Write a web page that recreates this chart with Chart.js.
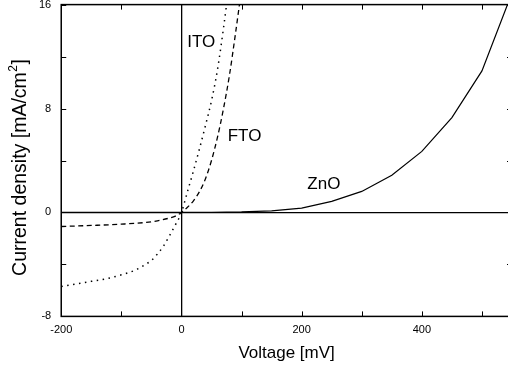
<!DOCTYPE html>
<html>
<head>
<meta charset="utf-8">
<script src="https://cdn.jsdelivr.net/npm/chart.js@4/dist/chart.umd.min.js"></script>
<style>
  html, body { margin: 0; padding: 0; background: #fff; overflow: hidden; }
  #wrap { width: 508px; height: 370px; overflow: hidden; }
  #ivChart { display: block; margin-top: -12px; }
</style>
</head>
<body>
<div id="wrap"><canvas id="ivChart" width="519" height="382"></canvas></div>
<script>
// --- Data ---
const voltageITO = [-200, -175, -150, -125, -100, -75, -60, -50, -40, -30, -20, -10, 0, 10, 20, 30, 40, 50, 60, 70, 80];
const currentITO = [-5.7, -5.5, -5.3, -5.1, -4.8, -4.4, -4.0, -3.7, -3.2, -2.6, -1.8, -0.95, 0, 1.6, 3.2, 4.9, 6.7, 8.6, 11.0, 14.2, 17.8];

const voltageFTO = [-200, -150, -100, -60, -40, -20, -10, 0, 10, 20, 30, 40, 50, 60, 70, 80, 90, 100];
const currentFTO = [-1.08, -1.0, -0.9, -0.77, -0.64, -0.43, -0.28, 0, 0.4, 0.9, 1.6, 2.6, 4.0, 5.8, 8.0, 10.6, 13.8, 17.2];

const voltageZnO = [-200, -150, -100, -50, 0, 50, 100, 150, 200, 250, 300, 350, 400, 450, 500, 550];
const currentZnO = [0, 0, 0, 0, 0, 0.01, 0.04, 0.13, 0.34, 0.85, 1.62, 2.86, 4.7, 7.3, 10.9, 16.9];

const xLabelTicks = [-200, 0, 200, 400];
const yLabelTicks = [-8, 0, 8, 16];

// curve labels, in data coordinates
const curveLabels = [
    { text: 'ITO', x: 33, y: 13.1 },
    { text: 'FTO', x: 105, y: 5.85 },
    { text: 'ZnO', x: 237, y: 2.2 },
];

const FONT = '"Liberation Sans", Arial, sans-serif';
Chart.defaults.color = '#000';
Chart.defaults.font.family = FONT;

const toPoints = (xs, ys) => xs.map((x, i) => ({ x: x, y: ys[i] }));

// y title with a real superscript 2
const drawYTitle = (ctx, cx, cy) => {
    const big = '19.5px ' + FONT;
    const small = '12px ' + FONT;
    const head = 'Current density [mA/cm';
    ctx.save();
    ctx.translate(cx, cy);
    ctx.rotate(-Math.PI / 2);
    ctx.textBaseline = 'alphabetic';
    ctx.textAlign = 'left';
    ctx.font = big;
    const wHead = ctx.measureText(head).width;
    const wTail = ctx.measureText(']').width;
    ctx.font = small;
    const wSup = ctx.measureText('2').width + 1;
    let px = -(wHead + wSup + wTail) / 2;
    const base = 7;
    ctx.font = big;
    ctx.fillText(head, px, base);
    px += wHead;
    ctx.font = small;
    ctx.fillText('2', px + 0.5, base - 9);
    px += wSup;
    ctx.font = big;
    ctx.fillText(']', px, base);
    ctx.restore();
};

// Inward tick marks on all four sides, plus frame and text labels
const framePlugin = {
    id: 'frame',
    afterDraw(chart) {
        const { ctx, chartArea: a, scales: { x, y } } = chart;
        ctx.save();
        ctx.strokeStyle = '#000';
        ctx.lineWidth = 1.5;
        ctx.strokeRect(a.left, a.top, a.right - a.left, a.bottom - a.top);

        ctx.lineWidth = 1;
        const len = 5;
        ctx.beginPath();
        for (let v = x.min; v <= x.max; v += 100) {
            const px = Math.round(x.getPixelForValue(v)) + 0.5;
            ctx.moveTo(px, a.bottom); ctx.lineTo(px, a.bottom - len);
            ctx.moveTo(px, a.top); ctx.lineTo(px, a.top + len);
        }
        for (let v = y.min; v <= y.max; v += 4) {
            const py = Math.round(y.getPixelForValue(v)) + 0.5;
            ctx.moveTo(a.left, py); ctx.lineTo(a.left + len, py);
            ctx.moveTo(a.right, py); ctx.lineTo(a.right - len, py);
        }
        ctx.stroke();

        ctx.font = '17px ' + FONT;
        ctx.fillStyle = '#000';
        ctx.textAlign = 'center';
        ctx.textBaseline = 'middle';
        curveLabels.forEach(l => {
            ctx.fillText(l.text, x.getPixelForValue(l.x), y.getPixelForValue(l.y));
        });

        drawYTitle(ctx, a.left - 42.5, (a.top + a.bottom) / 2 + 7);
        ctx.restore();
    }
};

new Chart(document.getElementById('ivChart'), {
    type: 'scatter',
    data: {
        datasets: [
            {
                label: 'ITO',
                data: toPoints(voltageITO, currentITO),
                showLine: true,
                borderColor: '#000',
                borderWidth: 1.5,
                borderDash: [1.5, 4.5],
                cubicInterpolationMode: 'monotone',
                pointRadius: 0,
            },
            {
                label: 'FTO',
                data: toPoints(voltageFTO, currentFTO),
                showLine: true,
                borderColor: '#000',
                borderWidth: 1.3,
                borderDash: [5, 3.5],
                cubicInterpolationMode: 'monotone',
                pointRadius: 0,
            },
            {
                label: 'ZnO',
                data: toPoints(voltageZnO, currentZnO),
                showLine: true,
                borderColor: '#000',
                borderWidth: 1.2,
                tension: 0,
                pointRadius: 0,
            },
        ]
    },
    options: {
        responsive: false,
        animation: false,
        layout: { padding: { left: 29, right: 0, top: 0, bottom: 6 } },
        plugins: {
            legend: { display: false },
            tooltip: { enabled: false },
        },
        scales: {
            x: {
                type: 'linear',
                min: -200,
                max: 550,
                border: { display: false },
                grid: {
                    drawTicks: false,
                    lineWidth: 1.3,
                    color: (c) => (c.tick && c.tick.value === 0 ? '#000' : 'rgba(0,0,0,0)'),
                },
                ticks: {
                    stepSize: 100,
                    padding: 7,
                    maxRotation: 0,
                    autoSkip: false,
                    font: { size: 11 },
                    callback: (v) => (xLabelTicks.includes(v) ? String(v) : ''),
                },
                title: {
                    display: true,
                    text: 'Voltage [mV]',
                    font: { size: 17 },
                    padding: { top: 0, bottom: 0 },
                },
            },
            y: {
                min: -8,
                max: 16,
                border: { display: false },
                grid: {
                    drawTicks: false,
                    lineWidth: 1.3,
                    color: (c) => (c.tick && c.tick.value === 0 ? '#000' : 'rgba(0,0,0,0)'),
                },
                ticks: {
                    stepSize: 4,
                    padding: 10,
                    autoSkip: false,
                    font: { size: 11 },
                    callback: (v) => (yLabelTicks.includes(v) ? String(v) : ''),
                },
            },
        },
    },
    plugins: [framePlugin],
});
</script>
</body>
</html>
